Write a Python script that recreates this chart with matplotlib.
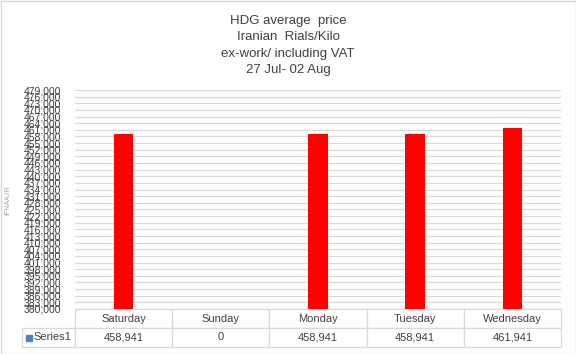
import matplotlib.pyplot as plt
from matplotlib.patches import Rectangle

# data
days = ["Saturday", "Sunday", "Monday", "Tuesday", "Wednesday"]
prices = [458941, 0, 458941, 458941, 461941]
series_name = "Series1"
y_min, y_max, y_step = 380000, 479000, 3000

txt = "#404040"
grid = "#D9D9D9"
plt.rcParams['font.family'] = ['Liberation Sans', 'DejaVu Sans']

fig = plt.figure(figsize=(5.76, 3.54), dpi=100)
ax = fig.add_axes([75 / 576, 1 - 309 / 354, 486 / 576, 219 / 354])

x = list(range(len(days)))
ax.bar(x, prices, width=0.2, color="#FF0000", zorder=3)
ax.set_xlim(-0.5, len(days) - 0.5)
ax.set_ylim(y_min, y_max)
ticks = list(range(y_min, y_max + 1, y_step))
ax.set_yticks(ticks)
ax.set_yticklabels([f"{t:,}" for t in ticks], fontsize=7.5, color=txt)
ax.set_xticks([])
ax.tick_params(axis="y", length=0, pad=10)
ax.grid(axis="y", color=grid, linewidth=0.9, zorder=0)
for s in ax.spines.values():
    s.set_visible(False)

# data table under the plot
cells = [[""] + days, [""] + [f"{v:,}" for v in prices]]
tw = 539
widths = [53 / tw] + [97.2 / tw] * len(days)
tab = ax.table(cellText=cells, colWidths=widths, cellLoc="center",
               bbox=[-53 / 486, -38 / 219, tw / 486, 38 / 219])
tab.auto_set_font_size(False)
for (r, c), cell in tab.get_celld().items():
    cell.set_edgecolor(grid)
    cell.set_linewidth(0.9)
    cell.get_text().set_fontsize(8)
    cell.get_text().set_color(txt)
    if r == 0 and c == 0:
        cell.visible_edges = ""

# legend key + series name in the row-label cell
fig.patches.append(Rectangle((26 / 576, 1 - 341 / 354), 6 / 576, 6 / 354,
                             transform=fig.transFigure, color="#4F81BD"))
fig.text(33 / 576, 1 - 337.5 / 354, series_name, ha="left", va="center",
         fontsize=8, color=txt)

# title
title_lines = ["HDG average  price", "Iranian  Rials/Kilo",
               "ex-work/ including VAT", "27 Jul- 02 Aug"]
for i, line in enumerate(title_lines):
    fig.text(288 / 576, 1 - (21 + i * 16.5) / 354, line, ha="center", va="center",
             fontsize=9.5, color=txt)

fig.text(8 / 576, 1 - 200 / 354, "IFNAA.IR", rotation=90, ha="center", va="center",
         fontsize=5, color="#A6A6A6")

fig.patches.append(Rectangle((0.5 / 576, 0.5 / 354), 575 / 576, 353 / 354,
                             transform=fig.transFigure, fill=False,
                             edgecolor=grid, linewidth=1))

fig.savefig("out.png", dpi=100)
